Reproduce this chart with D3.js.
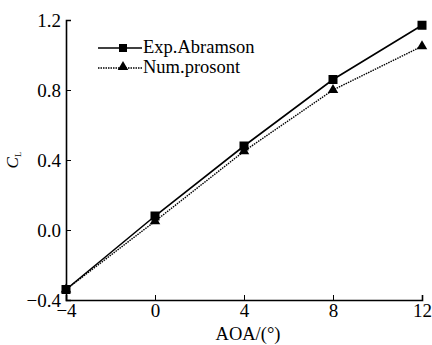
<!DOCTYPE html>
<html lang="en">
<head>
<meta charset="UTF-8">
<script src="https://d3js.org/d3.v7.min.js"></script>
<style>
  body { margin: 0; background: #fff; }
</style>
</head>
<body>
<script>
// data
var aoa = [-4, 0, 4, 8, 12];
var expAbramson = [-0.34, 0.08, 0.48, 0.86, 1.17];
var numProsont = [-0.34, 0.05, 0.45, 0.80, 1.05];
var xTicks = [-4, 0, 4, 8, 12];
var yTicks = [-0.4, 0.0, 0.4, 0.8, 1.2];

var width = 432, height = 345;
var font = "Liberation Serif";

var svg = d3.select("body").append("svg")
    .attr("width", width)
    .attr("height", height)
    .attr("font-family", font);

var x = d3.scaleLinear().domain([-4, 12]).range([66, 422]);
var y = d3.scaleLinear().domain([-0.4, 1.2]).range([300, 20]);

function minus(s) { return String(s).replace("-", "\u2212"); }

// axes, ticks pointing inward
svg.append("g")
    .attr("transform", "translate(0,300)")
    .call(d3.axisBottom(x).tickValues(xTicks).tickSize(-5).tickPadding(4)
        .tickFormat(function (d) { return minus(d); }))
    .attr("font-family", font)
    .attr("font-size", 19)
    .call(function (g) {
        g.select(".domain").attr("stroke-width", 1.6);
        g.selectAll(".tick line").attr("stroke-width", 1);
    });

svg.append("g")
    .attr("transform", "translate(66,0)")
    .call(d3.axisLeft(y).tickValues(yTicks).tickSize(-5).tickPadding(5)
        .tickFormat(function (d) { return minus(d.toFixed(1)); }))
    .attr("font-family", font)
    .attr("font-size", 19)
    .call(function (g) {
        g.select(".domain").attr("stroke-width", 1.6);
        g.selectAll(".tick line").attr("stroke-width", 1);
    });

// axis titles
svg.append("text")
    .attr("x", 248).attr("y", 340)
    .attr("text-anchor", "middle")
    .attr("font-size", 18.5)
    .text("AOA/(\u00B0)");

var yl = svg.append("text")
    .attr("transform", "translate(18,160) rotate(-90)")
    .attr("text-anchor", "middle")
    .attr("font-size", 17);
yl.append("tspan").attr("font-style", "italic").text("C");
yl.append("tspan").attr("font-size", 9).attr("dy", 3).text("L");

var line = d3.line()
    .x(function (d, i) { return x(aoa[i]); })
    .y(function (d) { return y(d); });

// Num.prosont (dotted)
svg.append("path")
    .datum(numProsont)
    .attr("d", line)
    .attr("fill", "none")
    .attr("stroke", "#000")
    .attr("stroke-width", 1.4)
    .attr("stroke-dasharray", "1.5,1");

// Exp.Abramson (solid)
svg.append("path")
    .datum(expAbramson)
    .attr("d", line)
    .attr("fill", "none")
    .attr("stroke", "#000")
    .attr("stroke-width", 1.6);

var tri = d3.symbol().type(d3.symbolTriangle).size(48);
svg.selectAll(".tri")
    .data(numProsont)
    .join("path")
    .attr("class", "tri")
    .attr("d", tri)
    .attr("transform", function (d, i) { return "translate(" + x(aoa[i]) + "," + y(d) + ")"; });

svg.selectAll(".sq")
    .data(expAbramson)
    .join("rect")
    .attr("class", "sq")
    .attr("x", function (d, i) { return x(aoa[i]) - 4.5; })
    .attr("y", function (d) { return y(d) - 4.5; })
    .attr("width", 9).attr("height", 9);

// legend
var lg = svg.append("g");
lg.append("line").attr("x1", 98).attr("x2", 142).attr("y1", 48).attr("y2", 48)
    .attr("stroke", "#000").attr("stroke-width", 1.6);
lg.append("rect").attr("x", 119).attr("y", 44).attr("width", 8).attr("height", 8);
lg.append("text").attr("x", 143).attr("y", 53).attr("font-size", 18.5).text("Exp.Abramson");

lg.append("line").attr("x1", 98).attr("x2", 142).attr("y1", 68).attr("y2", 68)
    .attr("stroke", "#000").attr("stroke-width", 1.4).attr("stroke-dasharray", "1.5,1");
lg.append("path").attr("d", tri).attr("transform", "translate(123,67)");
lg.append("text").attr("x", 143).attr("y", 73).attr("font-size", 18.5).text("Num.prosont");
</script>
</body>
</html>
